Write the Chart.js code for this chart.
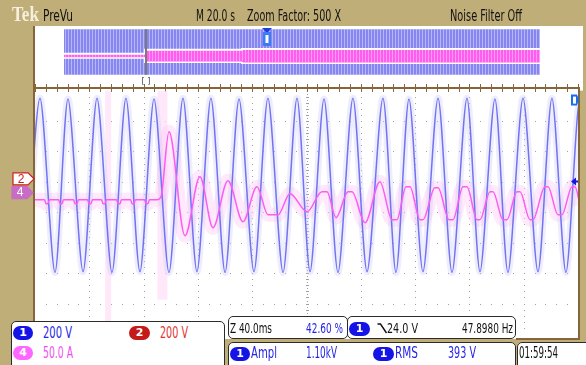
<!DOCTYPE html>
<html>
<head>
<meta charset="utf-8">
<script src="https://cdn.jsdelivr.net/npm/chart.js@4.4.1/dist/chart.umd.min.js"></script>
<style>
  html, body { margin: 0; padding: 0; }
  body { width: 586px; height: 365px; background: #c0ae78; position: relative; overflow: hidden;
         font-family: "Liberation Sans Narrow", "DejaVu Sans Condensed", sans-serif; }
  #scope { position: absolute; left: 0; top: 0; }
  #prevu { position: absolute; left: 33px; top: 27px; }
  .lbl { position: absolute; white-space: nowrap; transform-origin: 0 50%; line-height: 1; font-size: 15px; color: #111; }
  .blue { color: #2424e6; }
  .red { color: #e23232; }
  .pink { color: #f04ef0; }
  .box { position: absolute; background: #fff; border: 1.5px solid #2b2b2b; border-radius: 5px; box-sizing: border-box; }
  .pill { position: absolute; height: 14px; border-radius: 7px; color: #fff; font: bold 11px "DejaVu Sans", sans-serif;
          text-align: center; line-height: 14px; }
</style>
</head>
<body>
<canvas id="scope" width="586" height="365"></canvas>
<canvas id="prevu" width="551" height="64"></canvas>

<!-- header -->
<div class="lbl" style="left:12px;top:3px;font:bold 20px 'Liberation Serif',serif;color:#f5f0dd" data-w="27">Tek</div>
<div class="lbl" style="left:43px;top:9px" data-w="30">PreVu</div>
<div class="lbl" style="left:196px;top:9px" data-w="39">M 20.0 s</div>
<div class="lbl" style="left:247px;top:9px" data-w="94">Zoom Factor: 500 X</div>
<div class="lbl" style="left:450px;top:9px" data-w="72">Noise Filter Off</div>

<!-- readout boxes -->
<div class="box" style="left:11px;top:321px;width:214px;height:50px"></div>
<div class="box" style="left:228px;top:316px;width:120px;height:23px"></div>
<div class="box" style="left:347px;top:316px;width:169px;height:23px"></div>
<div class="box" style="left:228px;top:342px;width:288px;height:30px"></div>
<div class="box" style="left:517px;top:342px;width:75px;height:30px"></div>

<div class="pill" style="left:13px;top:326px;width:20px;background:#1414e6">1</div>
<div class="lbl blue" style="left:43px;top:326px" data-w="29">200 V</div>
<div class="pill" style="left:129px;top:326px;width:21px;background:#c41a1a">2</div>
<div class="lbl red" style="left:160px;top:326px" data-w="28">200 V</div>
<div class="pill" style="left:13px;top:346px;width:20px;background:#ff66ff">4</div>
<div class="lbl pink" style="left:43px;top:346px" data-w="30">50.0 A</div>

<div class="lbl" style="left:230px;top:321px;font-size:14px" data-w="42">Z 40.0ms</div>
<div class="lbl blue" style="left:306px;top:321px;font-size:14px" data-w="37">42.60 %</div>
<div class="pill" style="left:349px;top:322px;width:21px;background:#1414e6">1</div>
<svg style="position:absolute;left:377px;top:323px" width="11" height="11"><polyline points="0.5,1 3.5,1 9.5,10" fill="none" stroke="#111" stroke-width="1.4"/></svg>
<div class="lbl" style="left:387px;top:321px;font-size:14px" data-w="31">24.0 V</div>
<div class="lbl" style="left:462px;top:321px;font-size:14px" data-w="51">47.8980 Hz</div>

<div class="pill" style="left:230px;top:347px;width:20px;background:#1414e6">1</div>
<div class="lbl blue" style="left:251px;top:346px" data-w="26">Ampl</div>
<div class="lbl blue" style="left:306px;top:346px" data-w="31">1.10kV</div>
<div class="pill" style="left:373px;top:347px;width:21px;background:#1414e6">1</div>
<div class="lbl blue" style="left:395px;top:346px" data-w="23">RMS</div>
<div class="lbl blue" style="left:448px;top:346px" data-w="28">393 V</div>
<div class="lbl" style="left:519px;top:346px" data-w="39">01:59:54</div>

<script>
// squeeze each readout to the width it has on the scope screen
document.querySelectorAll('.lbl').forEach(el => {
  const w = parseFloat(el.dataset.w);
  const natural = el.getBoundingClientRect().width;
  if (w && natural) el.style.transform = 'scaleX(' + (w / natural) + ')';
});

// CH1 (blue, 200 V/div) peaks and troughs in the 400 ms zoom window, time in ms
const ch1Time = [-6.6, 3.7, 14.7, 24.3, 35.4, 45.7, 56.7, 67.0, 77.3, 87.7, 98.7, 109.0, 119.3, 129.6, 140.0,
                 150.3, 161.3, 171.6, 182.7, 193.0, 202.6, 212.9, 223.2, 234.2, 244.6, 256.3, 265.9, 275.5,
                 285.8, 296.9, 307.2, 318.2, 327.8, 338.8, 348.4, 359.5, 370.5, 380.8, 391.1, 401.4, 411.8];
const ch1Volts = [-570, 570, -575, 565, -570, 570, -575, 570, -570, 565, -575, 570, -570, 570, -575,
                  565, -570, 570, -575, 570, -570, 565, -575, 570, -570, 570, -575, 565,
                  -570, 570, -575, 570, -570, 565, -575, 570, -570, 570, -575, 565, -570];

// CH4 (pink, 50 A/div) current trace
const ch4Time = [0,
  7.0, 8.1, 9.5, 10.6, 17.4, 18.5, 19.9, 21.0, 28.4, 29.5, 30.9, 32.0, 38.7, 39.8, 41.2, 42.3,
  49.0, 50.1, 51.5, 52.6, 60.1, 61.2, 62.6, 63.7, 70.4, 71.5, 72.9, 74.0, 80.7, 81.8, 83.2, 84.3,
  89.9, 92.8, 98.7, 110.5, 121.5, 131.1, 142.1, 153.2, 163.5, 171.6, 179.0, 187.8, 200.4, 211.4,
  215.1, 221.7, 230.6, 233.5, 243.1, 254.1, 263.0, 266.6, 273.3, 276.2, 283.6, 285.8, 294.6, 296.9,
  305.0, 307.9, 315.3, 318.2, 325.6, 327.8, 335.2, 337.4, 344.7, 347.7, 355.0, 357.3, 364.6, 366.8,
  375.7, 377.9, 385.2, 388.2, 395.6, 397.8, 401.4];
const ch4Amps = [-11.5,
  -11.5, -18, -18, -11.5, -11.5, -18, -18, -11.5, -11.5, -18, -18, -11.5, -11.5, -18, -18, -11.5,
  -11.5, -18, -18, -11.5, -11.5, -18, -18, -11.5, -11.5, -18, -18, -11.5, -11.5, -18, -18, -11.5,
  -11.5, -6.6, 100, -70.7, 26.3, -57.6, 19.7, -47.7, 9.9, -36.2, -36.2, -1.6, -31.3, 1.6,
  1.6, -41.1, 1.6, 1.6, -49.4, 18.1, -44.4, -44.4, 9.9, 9.9, -44.4, -44.4, 8.2, 8.2,
  -44.4, -44.4, 9.9, 9.9, -44.4, -44.4, 1.6, 1.6, -44.4, -44.4, 1.6, 1.6, -44.4, -44.4,
  9.9, 9.9, -36.2, -36.2, 9.9, 9.9, -19.7];

// pale persistence streaks left by the current spikes (ms, A)
const streakTime = [53.9, 93.9];
const streakTop = [168, 168];
const streakBottom = [-232, -176];

// settings shown on screen
const ch1Ground = 0.9;      // div above centre
const ch2Ground = 1.1;
const ch4Ground = 0.645;
const triggerLevel = 24;     // V

// PreVu overview of the whole 200 s record
const ovTime = [0, 200];
const ovCh1Max = [565, 565];
const ovCh1Min = [-572, -572];
const ovCh4Time = [0, 34.5, 34.5, 75.2, 75.2, 200];
const ovCh4Max = [-6, -6, 20, 20, 24, 24];
const ovCh4Min = [-18, -18, -45, -45, -51, -51];
const zoomWindowAt = 34.5;   // s
const triggerAt = 85.3;      // s

const pts = (xs, ys) => xs.map((x, i) => ({ x: x, y: ys[i] }));

const screenFrame = {
  id: 'screenFrame',
  beforeDraw(chart) {
    const { ctx, chartArea: a, scales: { x } } = chart;
    ctx.save();
    ctx.fillStyle = '#ffffff';
    ctx.fillRect(35, 26, 548, a.top - 26);
    ctx.fillRect(a.left, a.top - 2, a.right - a.left, 339 - a.top + 2);
    ctx.fillStyle = '#86653a';
    ctx.fillRect(33, 26, 2, 296);
    ctx.fillRect(33, 87, a.right + 2 - 33, 2);
    ctx.fillRect(a.right, 88, 2, 252);
    ctx.fillRect(516, 338, a.right + 2 - 516, 2);
    for (let t = 0; t <= 400; t += 8) {
      const px = Math.round(x.getPixelForValue(t));
      ctx.fillRect(px, 84, 1, 3);
      ctx.fillRect(px, 89, 1, 3);
    }
    ctx.restore();
  }
};

const graticule = {
  id: 'graticule',
  beforeDatasetsDraw(chart) {
    const { ctx, chartArea: a, scales: { x, div } } = chart;
    const dy = div.getPixelForValue(0) - div.getPixelForValue(0.2);
    ctx.save();
    ctx.fillStyle = '#a0a0a0';
    for (let i = 1; i < 10; i++) {
      const px = Math.round(x.getPixelForValue(i * 40));
      const step = i === 5 ? dy / 2 : dy;
      for (let py = a.top + step; py < a.bottom; py += step) {
        ctx.fillRect(px, Math.round(py), 1, 1);
        if (i === 5 && Math.round((py - a.top) / step) % 2 === 0) ctx.fillRect(px - 1, Math.round(py), 3, 1);
      }
    }
    for (let j = -3; j <= 3; j++) {
      const py = Math.round(div.getPixelForValue(j));
      for (let t = 8; t < 400; t += 8) ctx.fillRect(Math.round(x.getPixelForValue(t)), py, 1, 1);
    }
    ctx.restore();
  }
};

function tag(ctx, left, y, label, fill, edge, ink) {
  ctx.beginPath();
  ctx.moveTo(left, y - 6);
  ctx.lineTo(left + 15, y - 6);
  ctx.lineTo(left + 21, y);
  ctx.lineTo(left + 15, y + 6);
  ctx.lineTo(left, y + 6);
  ctx.closePath();
  ctx.fillStyle = fill;
  ctx.fill();
  ctx.strokeStyle = edge;
  ctx.lineWidth = 1.2;
  ctx.stroke();
  ctx.fillStyle = ink;
  ctx.font = '12px "Liberation Sans Narrow", sans-serif';
  ctx.textAlign = 'center';
  ctx.textBaseline = 'middle';
  ctx.fillText(label, left + 8, y + 0.5);
}

const channelMarkers = {
  id: 'channelMarkers',
  afterDraw(chart) {
    const { ctx, chartArea: a, scales: { ch1, div } } = chart;
    ctx.save();
    tag(ctx, 13, div.getPixelForValue(ch2Ground), '2', '#ffffff', '#d01c1c', '#d01c1c');
    tag(ctx, 12, div.getPixelForValue(ch4Ground) , '4', '#c86cc8', '#c86cc8', '#ffffff');
    // trigger level arrow
    const yt = Math.round(ch1.getPixelForValue(triggerLevel)) + 0.5;
    ctx.fillStyle = '#1616e0';
    ctx.beginPath();
    ctx.moveTo(a.right - 7, yt);
    ctx.lineTo(a.right - 2, yt - 4);
    ctx.lineTo(a.right - 2, yt + 4);
    ctx.closePath();
    ctx.fill();
    ctx.fillRect(a.right - 3, yt - 1, 3, 2);
    // ch1 tag, top right
    ctx.fillStyle = '#1a6cf0';
    ctx.beginPath();
    ctx.moveTo(a.right - 7, a.top + 4);
    ctx.lineTo(a.right - 1, a.top + 4);
    ctx.lineTo(a.right + 1, a.top + 9);
    ctx.lineTo(a.right - 1, a.top + 15);
    ctx.lineTo(a.right - 7, a.top + 15);
    ctx.closePath();
    ctx.fill();
    ctx.fillStyle = '#ffffff';
    ctx.fillRect(a.right - 5, a.top + 6, 3, 7);
    ctx.restore();
  }
};

const scopeChart = new Chart(document.getElementById('scope'), {
  type: 'line',
  data: {
    datasets: [
      { data: pts(ch4Time, ch4Amps), yAxisID: 'ch4', borderColor: '#ff5af4', borderWidth: 1.5,
        cubicInterpolationMode: 'monotone', order: 0 },
      { data: pts(ch1Time, ch1Volts), yAxisID: 'ch1', borderColor: '#7272f2', borderWidth: 1.5,
        tension: 0.28, order: 1 },
      { data: pts(ch1Time, ch1Volts), yAxisID: 'ch1', borderColor: 'rgba(204,204,250,0.35)', borderWidth: 7,
        tension: 0.28, order: 2 },
      { data: pts(ch4Time, ch4Amps), yAxisID: 'ch4', borderColor: 'rgba(255,200,246,0.4)', borderWidth: 14,
        cubicInterpolationMode: 'monotone', order: 3 },
      { data: [{ x: streakTime[0], y: streakTop[0] }, { x: streakTime[0], y: streakBottom[0] }], yAxisID: 'ch4',
        borderColor: 'rgba(255,222,248,0.7)', borderWidth: 6, order: 4 },
      { data: [{ x: streakTime[1], y: streakTop[1] }, { x: streakTime[1], y: streakBottom[1] }], yAxisID: 'ch4',
        borderColor: 'rgba(255,222,248,0.7)', borderWidth: 10, order: 4 }
    ]
  },
  options: {
    responsive: false,
    animation: false,
    events: [],
    clip: 0,
    layout: { padding: { left: 35, top: 90.6, right: 8, bottom: 31 } },
    elements: { point: { radius: 0 }, line: { fill: false } },
    plugins: { legend: { display: false }, tooltip: { enabled: false } },
    scales: {
      x: { type: 'linear', axis: 'x', display: false, min: 0, max: 400 },
      div: { type: 'linear', axis: 'y', display: false, min: -4, max: 4 },
      ch1: { type: 'linear', axis: 'y', display: false, min: (-4 - ch1Ground) * 200, max: (4 - ch1Ground) * 200 },
      ch4: { type: 'linear', axis: 'y', display: false, min: (-4 - ch4Ground) * 50, max: (4 - ch4Ground) * 50 }
    }
  },
  plugins: [screenFrame, graticule, channelMarkers]
});

// striped fills for the overview envelope
function stripes(base, light) {
  const c = document.createElement('canvas');
  c.width = 3; c.height = 1;
  const g = c.getContext('2d');
  g.fillStyle = base; g.fillRect(0, 0, 3, 1);
  g.fillStyle = light; g.fillRect(2, 0, 1, 1);
  return g.createPattern(c, 'repeat');
}

const prevuMarks = {
  id: 'prevuMarks',
  afterDatasetsDraw(chart) {
    const { ctx, scales: { x, ch1 } } = chart;
    const cx = Math.round(x.getPixelForValue(zoomWindowAt));
    ctx.save();
    ctx.fillStyle = '#7a7a7a';
    ctx.fillRect(cx - 1, ch1.getPixelForValue(ovCh1Max[0]), 2, ch1.getPixelForValue(ovCh1Min[0]) - ch1.getPixelForValue(ovCh1Max[0]));
    ctx.fillStyle = '#444';
    ctx.font = '8px "DejaVu Sans", sans-serif';
    ctx.textAlign = 'center';
    ctx.fillText('[ ]', cx, 57);
    const tx = Math.round(x.getPixelForValue(triggerAt));
    ctx.fillStyle = '#1c3fd8';
    ctx.beginPath();
    ctx.moveTo(tx - 5, 1); ctx.lineTo(tx + 5, 1); ctx.lineTo(tx, 6); ctx.closePath(); ctx.fill();
    ctx.fillStyle = '#3d7cf2';
    ctx.fillRect(tx - 4, 5, 8, 14);
    ctx.fillStyle = '#ffffff';
    ctx.fillRect(tx - 1.5, 8, 3, 8);
    ctx.restore();
  }
};

new Chart(document.getElementById('prevu'), {
  type: 'line',
  data: {
    datasets: [
      { data: pts(ovTime, ovCh1Max), yAxisID: 'ch1', borderWidth: 0, fill: '+1',
        backgroundColor: stripes('#8686f0', '#b6b6f8'), order: 5 },
      { data: pts(ovTime, ovCh1Min), yAxisID: 'ch1', borderWidth: 0, order: 5 },
      { data: pts(ovCh4Time, ovCh4Max), yAxisID: 'ch4', borderColor: '#ffffff', borderWidth: 4, fill: '+1',
        backgroundColor: '#ffffff', order: 3 },
      { data: pts(ovCh4Time, ovCh4Min), yAxisID: 'ch4', borderColor: '#ffffff', borderWidth: 4, order: 3 },
      { data: pts(ovCh4Time, ovCh4Max), yAxisID: 'ch4', borderWidth: 0, fill: '+1',
        backgroundColor: stripes('#ff5cf0', '#ff9af4'), order: 1 },
      { data: pts(ovCh4Time, ovCh4Min), yAxisID: 'ch4', borderColor: '#ff5cf0', borderWidth: 1, order: 1 }
    ]
  },
  options: {
    responsive: false,
    animation: false,
    events: [],
    layout: { padding: 0 },
    elements: { point: { radius: 0 } },
    plugins: { legend: { display: false }, tooltip: { enabled: false } },
    scales: {
      x: { type: 'linear', axis: 'x', display: false, min: -13, max: 218.5 },
      ch1: { type: 'linear', axis: 'y', display: false, min: (-4 - ch1Ground) * 200, max: (4 - ch1Ground) * 200 },
      ch4: { type: 'linear', axis: 'y', display: false, min: (-4 - ch4Ground) * 50, max: (4 - ch4Ground) * 50 }
    }
  },
  plugins: [prevuMarks]
});
</script>
</body>
</html>
